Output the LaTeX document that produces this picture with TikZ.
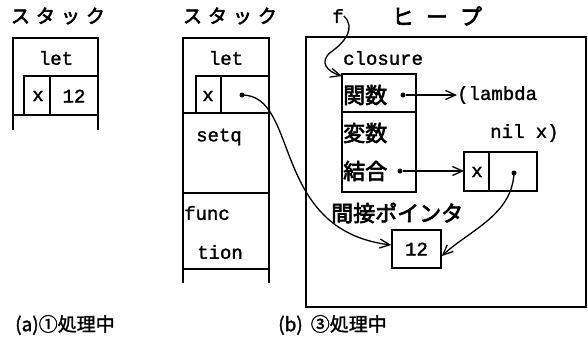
\documentclass[tikz,border=0pt]{standalone}
\usepackage{fontspec}
\setmonofont{Liberation Mono}[FakeBold=1.5]
\newfontfamily\jp{Noto Sans CJK JP}[FakeBold=3]
\newfontfamily\jpcap{Noto Sans CJK JP}[FakeBold=1.5]
\usetikzlibrary{arrows.meta}
\newcommand\jsp{\hspace{6pt}}
\tikzset{
 ln/.style={line width=1.5pt},
 code/.style={font=\fontsize{19}{19}\selectfont\ttfamily, inner sep=0pt},
 jtxt/.style={font=\fontsize{22}{22}\selectfont\jp, inner sep=0pt},
 jlab/.style={font=\fontsize{19}{19}\selectfont\jp, inner sep=0pt},
 jcap/.style={font=\fontsize{19}{19}\selectfont\jpcap, inner sep=0pt},
 ptr/.style={line width=1.3pt, -{Straight Barb[length=10pt,width=9pt]}},
 dotc/.style={circle, fill, inner sep=0pt, minimum size=5pt},
}
\begin{document}
\begin{tikzpicture}[x=1pt,y=-1pt]
\useasboundingbox (0,0) rectangle (588,340);
\fill[white] (0,0) rectangle (588,340);

% ---------- (a) stack ----------
\node[jlab] (lblA) at (58,16) {ス\jsp タ\jsp ッ\jsp ク};
\draw[ln] (13,130) -- (13,38) -- (98,38) -- (98,130);
\draw[ln] (13,115) -- (98,115);
\draw[ln] (24,76) rectangle (98,115);
\draw[ln] (50,76) -- (50,115);
\node[code] (letA) at (56,58) {let};
\node[code] (xA) at (38,96) {x};
\node[code] (vA) at (74,96) {12};

% ---------- (b) stack ----------
\node[jlab] (lblB) at (230,16) {ス\jsp タ\jsp ッ\jsp ク};
\draw[ln] (183,283) -- (183,38) -- (269,38) -- (269,283);
\draw[ln] (183,113) -- (269,113);
\draw[ln] (183,193) -- (269,193);
\draw[ln] (183,269) -- (269,269);
\draw[ln] (196,113) -- (196,76) -- (269,76);
\draw[ln] (221,76) -- (221,113);
\node[code] (letB) at (226,58) {let};
\node[code] (xB) at (208,96) {x};
\node[dotc] (dB) at (242,95) {};
\node[code, anchor=west] (setq) at (196,137) {setq};
\node[code, anchor=west] (func) at (184,213) {func};
\node[code, anchor=west] (tion) at (197,252) {tion};

% ---------- heap ----------
\draw[ln] (306,37) rectangle (586,307);
\node[code] (f) at (338,16) {f};
\node[jtxt] (heap) at (437,16) {ヒ\hspace{12pt}ー\hspace{12pt}プ};
\node[code, anchor=west] (clo) at (343,58) {closure};

\draw[ln] (342,74) rectangle (416,192);
\draw[ln] (342,112) -- (416,112);
\coordinate (cloTL) at (342,76);
\node[jtxt, anchor=west] (kansu) at (343,95) {関数};
\node[dotc] (d1) at (403,95) {};
\node[code, anchor=west] (lam) at (457,95) {(lambda};
\node[jtxt, anchor=west] (hensu) at (343,133) {変数};
\node[code, anchor=west] (nilx) at (490,133) {nil x)};
\node[jtxt, anchor=west] (ketsu) at (343,171) {結合};
\node[dotc] (d2) at (400,171) {};

\draw[ln] (464,152) rectangle (537,191);
\draw[ln] (489,152) -- (489,191);
\coordinate (xbL) at (464,171);
\node[code] (xC) at (477,172) {x};
\node[dotc] (d3) at (514,173) {};

\node[jtxt, anchor=west] (kan) at (331,213) {間接ポインタ};
\node[code, draw, ln, minimum width=49pt, minimum height=38pt] (v12) at (416.5,249) {12};

% ---------- connectors ----------
\draw[ptr] (d1) -- (lam.west);
\draw[ptr] (d2) -- (xbL);
\draw[ptr] (dB.center) .. controls (300,95) and (270,230) .. ([yshift=4pt]v12.west);
\draw[ptr] (d3.center) .. controls (512,215) and (470,230) .. ([yshift=-7pt]v12.east);
\draw[line width=1.3pt] (f.east) .. controls (356,28) and (345,42) .. (331,52);
\draw[ptr] (331,52) .. controls (318,62) and (328,72) .. (cloTL);

% ---------- captions ----------
\node[jcap, anchor=west] (capA) at (15,325) {(a)①処理中};
\node[jcap, anchor=west] (capB) at (278,325) {(b)\hspace{8pt}③処理中};
\end{tikzpicture}
\end{document}
